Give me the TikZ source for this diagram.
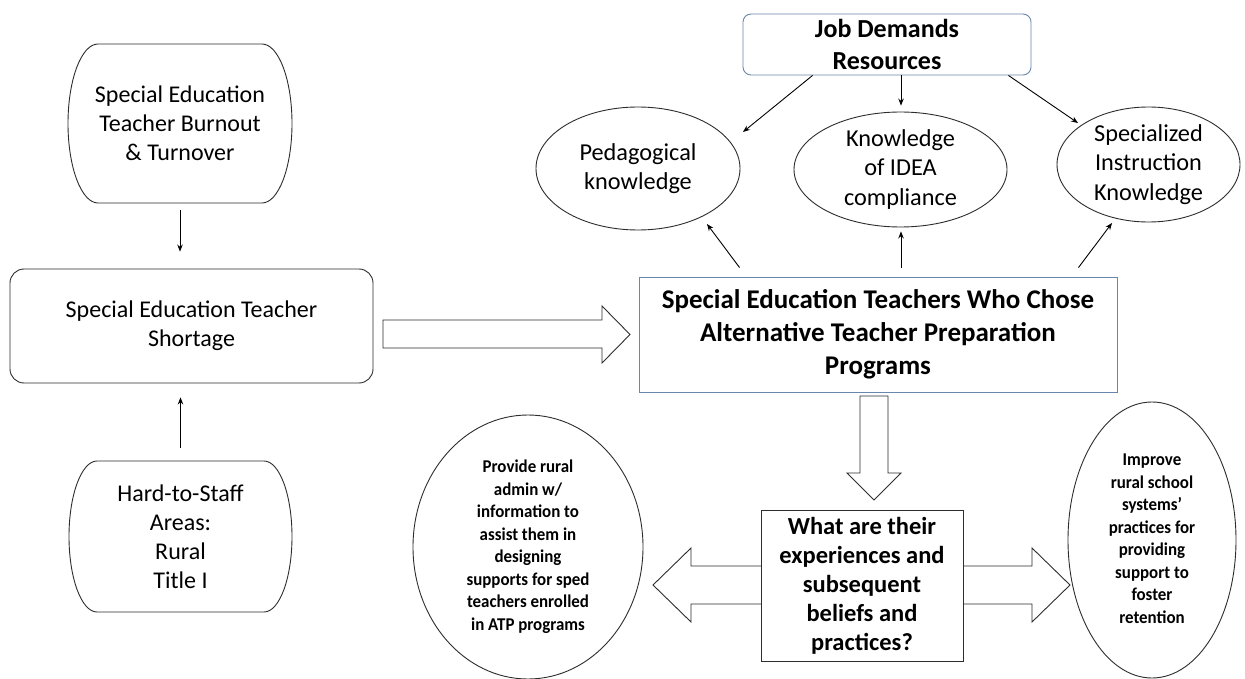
\documentclass[tikz,border=0pt]{standalone}
\usepackage{fontspec}
\usepackage{graphicx}
\setmainfont{Carlito}
\usetikzlibrary{arrows.meta,shapes.geometric,calc}
\definecolor{frameblue}{RGB}{105,135,170}
\definecolor{inkgray}{RGB}{45,45,45}

% Box with straight top/bottom edges and elliptical sides: x0 y0 x1 y1 rx
\newcommand\drawcapsule[5]{%
  \pgfmathsetmacro\capxa{#1+#5}\pgfmathsetmacro\capxb{#3-#5}%
  \pgfmathsetmacro\capym{(#2+#4)/2}%
  \pgfmathsetmacro\capkx{0.5523*#5}\pgfmathsetmacro\capky{0.5523*(#4-#2)/2}%
  \draw[outline] (\capxa,#2) -- (\capxb,#2)
    .. controls (\capxb+\capkx,#2) and (#3,\capym-\capky) .. (#3,\capym)
    .. controls (#3,\capym+\capky) and (\capxb+\capkx,#4) .. (\capxb,#4)
    -- (\capxa,#4)
    .. controls (\capxa-\capkx,#4) and (#1,\capym+\capky) .. (#1,\capym)
    .. controls (#1,\capym-\capky) and (\capxa-\capkx,#2) .. (\capxa,#2) -- cycle;}

% narrow bold text block for the two outcome ovals
\newcommand\squeezedlines[1]{\scalebox{0.94}[1]{\begin{tabular}{@{}c@{}}#1\end{tabular}}}

\begin{document}
\begin{tikzpicture}[x=1pt,y=-1pt,
  outline/.style={draw=inkgray,line width=0.9pt},
  thinarrow/.style={draw=black,line width=0.9pt,-{Stealth[length=7pt,width=5.5pt]}},
  blockarrow/.style={draw=inkgray,line width=0.9pt,fill=white,line join=miter},
  plaintext/.style={font=\fontsize{24}{29}\selectfont,align=center,text=black,inner sep=0pt},
  ovaltext/.style={font=\fontsize{24.3}{29.5}\selectfont,align=center,inner sep=0pt},
  oval/.style={ellipse,draw=inkgray,line width=0.9pt,inner sep=0pt},
  smallbold/.style={font=\bfseries\fontsize{18}{22.5}\selectfont,align=center},
]
\fill[white] (0,0) rectangle (1245,679);
\useasboundingbox (0,0) rectangle (1245,679);

% left column
\node[plaintext,minimum width=224pt,minimum height=159pt] (burn) at (180,123.5)
  {Special Education\\Teacher Burnout\\\& Turnover};
\drawcapsule{68}{44}{292}{203}{30}

\node[plaintext,draw=inkgray,line width=0.9pt,rounded corners=14pt,
  minimum width=363pt,minimum height=114pt] (short) at (191.5,326)
  {Special Education Teacher\\Shortage};

\node[plaintext,minimum width=223pt,minimum height=151pt] (hard) at (180.5,536.5)
  {Hard-to-Staff\\Areas:\\Rural\\Title I};
\drawcapsule{69}{461}{292}{612}{28}

\draw[thinarrow] ([yshift=-7pt]burn.south) -- ($(burn.south |- short.north)+(0,-17)$);
\draw[thinarrow] ([yshift=13pt]hard.north) -- ($(hard.north |- short.south)+(0,14)$);

% hollow arrow into the central box
\draw[blockarrow] (383,320) -- (602,320) -- (602,306) -- (630,334.5)
  -- (602,363) -- (602,348) -- (383,348) -- cycle;

% top part
\node[font=\bfseries\fontsize{26}{32}\selectfont,align=center,draw=frameblue,
  line width=0.9pt,rounded corners=8pt,minimum width=288pt,minimum height=61pt,
  inner sep=0pt] (jdr) at (887,44.5) {Job Demands\\Resources};

\node[oval,minimum width=204pt,minimum height=123pt,ovaltext] (ped) at (638,168.5)
  {Pedagogical\\knowledge};
\node[oval,minimum width=213pt,minimum height=115pt,ovaltext] (idea) at (900.5,169.5)
  {Knowledge\\of IDEA\\compliance};
\node[oval,minimum width=183pt,minimum height=115pt,ovaltext] (spec) at (1148.5,164.5)
  {Specialized\\Instruction\\Knowledge};

\node[font=\bfseries\fontsize{27}{33}\selectfont,align=center,draw=frameblue,
  line width=0.9pt,minimum width=478pt,minimum height=115pt,inner sep=0pt]
  (main) at (878,334.5)
  {Special Education Teachers Who Chose\\Alternative Teacher Preparation\\Programs};

\draw[thinarrow] ([xshift=70pt]jdr.south west) -- ([xshift=105pt,yshift=36.5pt]ped.center);
\draw[thinarrow] ([xshift=14pt]jdr.south) -- ([xshift=0.5pt,yshift=6pt]idea.north);
\draw[thinarrow] ([xshift=-23pt]jdr.south east) -- ([xshift=-70.5pt,yshift=41.5pt]spec.center);

\draw[thinarrow] ([xshift=101pt,yshift=9pt]main.north west) -- ([xshift=69pt,yshift=-55.5pt]ped.center);
\draw[thinarrow] ([xshift=23pt,yshift=9pt]main.north) -- ([xshift=0.5pt,yshift=-4pt]idea.south);
\draw[thinarrow] ([xshift=-39pt,yshift=9pt]main.north east) -- ([xshift=-36.5pt,yshift=-58.5pt]spec.center);

% bottom part
\draw[blockarrow] (860,396) -- (888,396) -- (888,473) -- (901,473) -- (874,500)
  -- (847,473) -- (860,473) -- cycle;

\draw[blockarrow] (653,585) -- (691,548) -- (691,566) -- (1032,566) -- (1032,548)
  -- (1070,585) -- (1032,622) -- (1032,604) -- (691,604) -- (691,622) -- cycle;

\node[font=\bfseries\fontsize{24.5}{29}\selectfont,align=center,draw=inkgray,
  line width=0.9pt,fill=white,minimum width=202pt,minimum height=151pt,inner sep=0pt]
  (quest) at (862,585.5)
  {What are their\\experiences and\\subsequent\\beliefs and\\practices?};

\node[oval,minimum width=230pt,minimum height=264pt,smallbold] (admin) at (528,547)
  {\squeezedlines{Provide rural\\admin w/\\information to\\assist them in\\designing\\supports for sped\\teachers enrolled\\in ATP programs}};
\node[oval,minimum width=168pt,minimum height=276pt,smallbold] (improve) at (1152,540)
  {\squeezedlines{Improve\\rural school\\systems’\\practices for\\providing\\support to\\foster\\retention}};
\end{tikzpicture}
\end{document}
